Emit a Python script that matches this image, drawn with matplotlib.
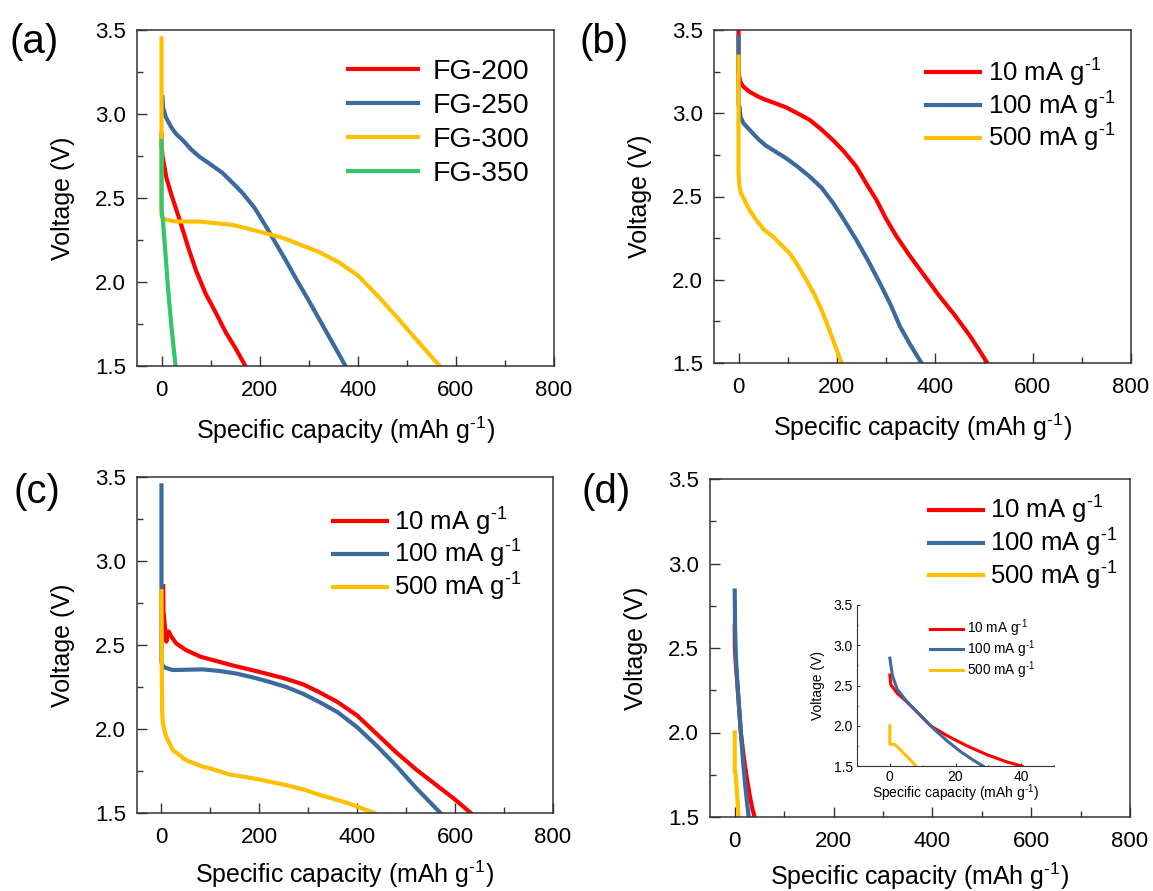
import matplotlib
matplotlib.use("Agg")
import matplotlib.pyplot as plt
from matplotlib.ticker import MultipleLocator

plt.rcParams['font.family'] = ['Liberation Sans', 'DejaVu Sans']
plt.rcParams['mathtext.fontset'] = 'custom'
plt.rcParams['mathtext.rm'] = 'Liberation Sans'
plt.rcParams['mathtext.it'] = 'Liberation Sans:italic'

RED = '#ff0000'
BLUE = '#3b6a9e'
YELLOW = '#ffc000'
GREEN = '#36c46c'

# (a) different FG samples
fg200_x = [0, 0, 2, 5, 10, 20, 37, 55, 70, 90, 111, 131, 150, 171]
fg200_v = [2.88, 2.82, 2.75, 2.70, 2.62, 2.52, 2.37, 2.20, 2.07, 1.93, 1.815, 1.70, 1.61, 1.50]
fg250_x = [2, 3, 9, 20, 30, 43, 60, 77, 100, 124, 145, 165, 190, 213, 233, 253, 278, 300, 325, 350, 375]
fg250_v = [3.10, 3.04, 2.98, 2.92, 2.88, 2.845, 2.79, 2.746, 2.70, 2.65, 2.59, 2.53, 2.44, 2.33, 2.23,
           2.13, 2.0, 1.89, 1.76, 1.63, 1.50]
fg300_x = [0, 0, 3, 10, 29, 77, 145, 213, 250, 280, 320, 360, 400, 443, 480, 520, 567]
fg300_v = [3.45, 2.40, 2.38, 2.37, 2.36, 2.36, 2.34, 2.29, 2.26, 2.225, 2.18, 2.12, 2.04, 1.91,
           1.79, 1.655, 1.50]
fg350_x = [0, 0, 1, 3, 8, 13, 20, 28.5]
fg350_v = [2.84, 2.45, 2.40, 2.36, 2.17, 1.97, 1.74, 1.50]

# (b)
b10_x = [0, 0, 1, 2, 5, 10, 22, 40, 56, 75, 97, 120, 145, 170, 192, 215, 240, 260, 281, 300, 322,
         350, 380, 410, 440, 470, 490, 507]
b10_v = [3.49, 3.25, 3.23, 3.21, 3.18, 3.16, 3.13, 3.10, 3.08, 3.06, 3.035, 3.00, 2.96, 2.90, 2.84,
         2.77, 2.68, 2.58, 2.48, 2.37, 2.26, 2.14, 2.02, 1.90, 1.79, 1.67, 1.58, 1.50]
b100_x = [0, 0, 2, 4, 10, 29, 42, 56, 75, 97, 120, 145, 170, 193, 215, 240, 265, 288, 310, 329, 350, 373]
b100_v = [3.46, 3.05, 3.04, 2.98, 2.94, 2.88, 2.84, 2.805, 2.77, 2.73, 2.68, 2.62, 2.55, 2.46, 2.36,
          2.24, 2.11, 1.98, 1.85, 1.72, 1.61, 1.50]
b500_x = [0, 0, 2, 5, 12, 22, 36, 52, 70, 87, 104, 120, 138, 155, 172, 190, 210]
b500_v = [3.34, 2.64, 2.56, 2.52, 2.48, 2.42, 2.36, 2.30, 2.26, 2.21, 2.16, 2.09, 2.0, 1.91, 1.80, 1.66, 1.50]

# (c)
c10_x = [3.5, 4, 6, 8, 10, 12, 15, 20, 30, 50, 80, 118, 150, 186, 220, 253, 290, 322, 360, 400, 440,
         480, 520, 560, 600, 632]
c10_v = [2.85, 2.70, 2.64, 2.58, 2.52, 2.56, 2.58, 2.55, 2.51, 2.47, 2.43, 2.40, 2.375, 2.35, 2.325,
         2.30, 2.265, 2.22, 2.16, 2.08, 1.97, 1.86, 1.76, 1.67, 1.58, 1.50]
c100_x = [0, 0, 2, 6, 23, 84, 120, 153, 190, 221, 255, 289, 323, 360, 400, 440, 480, 520, 550, 570]
c100_v = [3.45, 2.40, 2.38, 2.367, 2.351, 2.355, 2.345, 2.33, 2.305, 2.28, 2.25, 2.21, 2.16, 2.10,
          2.01, 1.90, 1.78, 1.65, 1.56, 1.50]
c500_x = [0, 0.5, 1.5, 3, 9.5, 23, 50, 84, 100, 138, 160, 199, 253, 290, 321, 380, 435]
c500_v = [2.82, 2.40, 2.10, 2.03, 1.955, 1.875, 1.815, 1.776, 1.765, 1.73, 1.72, 1.70, 1.667, 1.64,
          1.61, 1.56, 1.50]

# (d) and inset
d10_x = [0, 0.3, 2.3, 5.4, 9.4, 12.4, 17.5, 23.5, 29.6, 35.7, 40.2]
d10_v = [2.63, 2.51, 2.40, 2.29, 2.125, 2.0, 1.875, 1.75, 1.64, 1.55, 1.50]
d100_x = [0, 0.8, 2.3, 5.4, 9.4, 13.4, 17.5, 21.5, 25.5, 28.4]
d100_v = [2.84, 2.62, 2.45, 2.29, 2.125, 1.96, 1.81, 1.68, 1.57, 1.50]
d500_x = [0, 0, 1.3, 2.3, 4.3, 6.4, 7.9]
d500_v = [2.0, 1.77, 1.77, 1.74, 1.655, 1.57, 1.50]

SUP = r'$^{\text{-}1}$'
rate_labels = ['10 mA g' + SUP, '100 mA g' + SUP, '500 mA g' + SUP]
fg_labels = ['FG-200', 'FG-250', 'FG-300', 'FG-350']
xlabel = 'Specific capacity (mAh g' + SUP + ')'

W, H = 1153, 891
fig = plt.figure(figsize=(W / 100, H / 100), dpi=100)


def make_ax(l, t, r, b):
    return fig.add_axes([l / W, 1 - b / H, (r - l) / W, (b - t) / H])


def style(ax, xlim, xmaj, xmin, fs_tick, fs_lab, xpad=10, small=False):
    ax.set_xlim(*xlim)
    ax.set_ylim(1.5, 3.5)
    ax.xaxis.set_major_locator(MultipleLocator(xmaj))
    ax.xaxis.set_minor_locator(MultipleLocator(xmin))
    ax.yaxis.set_major_locator(MultipleLocator(0.5))
    ax.yaxis.set_minor_locator(MultipleLocator(0.25))
    ax.yaxis.set_major_formatter(plt.FormatStrFormatter('%.1f'))
    for s in ax.spines.values():
        s.set_color('#333333')
        s.set_linewidth(0.8 if small else 1.1)
    ax.tick_params(which='both', direction='in', top=False, right=False,
                   labelsize=fs_tick, color='#333333', width=0.8 if small else 1.0)
    ax.tick_params(axis='x', pad=3 if small else 10)
    ax.tick_params(axis='y', pad=3 if small else 8)
    ax.tick_params(which='major', length=2 if small else 7)
    ax.tick_params(which='minor', length=1 if small else 4)
    ax.set_xlabel(xlabel, fontsize=fs_lab, labelpad=-1 if small else xpad)
    ax.set_ylabel('Voltage (V)', fontsize=fs_lab, labelpad=6 if small else 14)


def legend(ax, anchor, hl, fs=18.5, ls=0.02, tp=0.3):
    ax.legend(loc='upper right', bbox_to_anchor=anchor, frameon=False,
              fontsize=fs, handlelength=hl, handletextpad=tp,
              labelspacing=ls, borderaxespad=0, borderpad=0)


LW = 3

# (a)
ax = make_ax(137, 30, 554, 366)
ax.plot(fg200_x, fg200_v, color=RED, lw=LW, label=fg_labels[0])
ax.plot(fg250_x, fg250_v, color=BLUE, lw=LW, label=fg_labels[1])
ax.plot(fg300_x, fg300_v, color=YELLOW, lw=LW, label=fg_labels[2])
ax.plot(fg350_x, fg350_v, color=GREEN, lw=LW, label=fg_labels[3])
style(ax, (-50, 800), 200, 100, 16, 18)
legend(ax, (0.94, 0.913), 2.45, fs=20.5, ls=0.28, tp=0.5)

# (b)
ax = make_ax(714, 30, 1131, 363)
ax.plot(b10_x, b10_v, color=RED, lw=LW, label=rate_labels[0])
ax.plot(b100_x, b100_v, color=BLUE, lw=LW, label=rate_labels[1])
ax.plot(b500_x, b500_v, color=YELLOW, lw=LW, label=rate_labels[2])
style(ax, (-50, 800), 200, 100, 16, 18)
legend(ax, (0.962, 0.92), 2.1)

# (c)
ax = make_ax(137, 477, 553, 813)
ax.plot(c10_x, c10_v, color=RED, lw=LW, label=rate_labels[0])
ax.plot(c100_x, c100_v, color=BLUE, lw=LW, label=rate_labels[1])
ax.plot(c500_x, c500_v, color=YELLOW, lw=LW, label=rate_labels[2])
style(ax, (-50, 800), 200, 100, 16, 18, xpad=8)
legend(ax, (0.925, 0.915), 2.1)

# (d)
ax = make_ax(710, 479, 1130, 817)
ax.plot(d10_x, d10_v, color=RED, lw=LW, label=rate_labels[0])
ax.plot(d100_x, d100_v, color=BLUE, lw=LW, label=rate_labels[1])
ax.plot(d500_x, d500_v, color=YELLOW, lw=LW, label=rate_labels[2])
style(ax, (-50, 800), 200, 100, 16, 18, xpad=6)
legend(ax, (0.971, 0.955), 2.1)

# inset
ax = make_ax(857, 605, 1054, 766)
ax.plot(d10_x, d10_v, color=RED, lw=2.2, label=rate_labels[0])
ax.plot(d100_x, d100_v, color=BLUE, lw=2.2, label=rate_labels[1])
ax.plot(d500_x, d500_v, color=YELLOW, lw=2.2, label=rate_labels[2])
style(ax, (-10, 50), 20, 10, 10, 10, small=True)
ax.spines['top'].set_visible(False)
ax.spines['right'].set_visible(False)
ax.legend(loc='upper right', bbox_to_anchor=(0.905, 0.92), frameon=False,
          fontsize=9.8, handlelength=2.4, handletextpad=0.3,
          labelspacing=-0.08, borderaxespad=0, borderpad=0)

# panel letters
for lab, x, y in [('(a)', 9, 42), ('(b)', 579, 42), ('(c)', 13, 492), ('(d)', 581, 492)]:
    fig.text(x / W, 1 - y / H, lab, fontsize=29, va='center', ha='left')

fig.savefig('out.png', dpi=100)
